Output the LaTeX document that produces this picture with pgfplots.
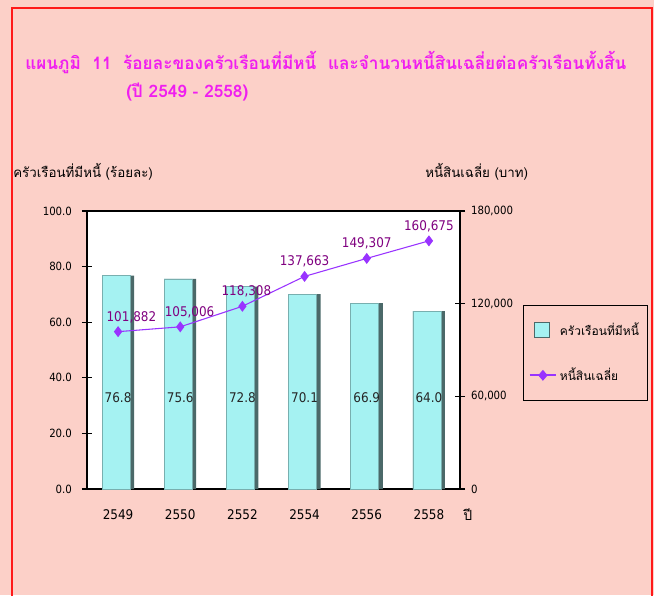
\documentclass[border=0pt]{standalone}
\usepackage{pgfplots}
\usepackage{pgfplotstable}
\pgfplotsset{compat=1.18}
\usepackage{fontspec}
\setmainfont{DejaVu Sans Condensed}
\newfontfamily\thai[Script=Thai]{Loma}
\definecolor{bgpink}{RGB}{252,208,200}
\definecolor{bord}{RGB}{255,25,25}
\definecolor{titlemag}{RGB}{240,30,240}
\definecolor{barcyan}{RGB}{165,242,242}
\definecolor{baredge}{RGB}{75,105,105}
\definecolor{barleft}{RGB}{120,175,175}
\definecolor{linevio}{RGB}{153,51,255}
\definecolor{labpur}{RGB}{128,0,128}
\pgfplotstableread{
x pct lab ly
0 76.8 76.8 33
1 75.6 75.6 33
2 72.8 72.8 33
3 70.1 70.1 33
4 66.9 66.9 33
5 64.0 64.0 33
}\pcttable
\pgfplotstableread{
x debt
0 101882
1 105006
2 118308
3 137663
4 149307
5 160675
}\debttable
\begin{document}
\begin{tikzpicture}
\begin{scope}[x=0.75pt,y=-0.75pt]
\fill[bgpink] (0,0) rectangle (654,595);
\draw[bord,line width=2.2pt] (12,596) -- (12,8) -- (652,8) -- (652,596);
\node[anchor=west,inner sep=0pt,text=titlemag,font=\thai\bfseries\fontsize{12.9}{14}\selectfont] at (25,62) {แผนภูมิ\ \ 11\ \ ร้อยละของครัวเรือนที่มีหนี้\ \ และจำนวนหนี้สินเฉลี่ยต่อครัวเรือนทั้งสิ้น};
\node[anchor=west,inner sep=0pt,text=titlemag,font=\thai\bfseries\fontsize{12.9}{14}\selectfont] at (126,92) {(ปี 2549 - 2558)};
\node[anchor=west,inner sep=0pt,font=\thai\fontsize{10}{12}\selectfont] at (13,172) {ครัวเรือนที่มีหนี้ (ร้อยละ)};
\node[anchor=west,inner sep=0pt,font=\thai\fontsize{10}{12}\selectfont] at (425,172) {หนี้สินเฉลี่ย (บาท)};
\node[anchor=west,inner sep=0pt,font=\thai\fontsize{10.5}{12}\selectfont] at (463,515) {ปี};
\end{scope}
\begin{axis}[
  at={(65.25pt,-366.75pt)}, anchor=south west,
  width=279.75pt, height=208.5pt, scale only axis,
  xmin=-0.5, xmax=5.5, ymin=0, ymax=100,
  axis background/.style={fill=white},
  x axis line style={gray, line width=1pt},
  y axis line style={black, line width=0.8pt},
  xtick={0,...,5}, xticklabels={2549,2550,2552,2554,2556,2558},
  xtick style={draw=none},
  x tick label style={font=\fontsize{10}{12}\selectfont, yshift=-8pt},
  ytick={0,20,...,100}, ytick pos=left, tick align=center,
  major tick length=7.5pt,
  y tick label style={font=\fontsize{8.5}{10}\selectfont, xshift=-4pt, /pgf/number format/.cd, fixed, fixed zerofill, precision=1},
  /pgf/number format/assume math mode=true,
  ytick style={black, line width=0.8pt},
  clip=false,
]
\addplot[ybar, bar width=24pt, fill=baredge, draw=none] table[x=x,y=pct] {\pcttable};
\addplot[ybar, bar width=21pt, bar shift=-1.5pt, fill=barcyan, draw=barleft, line width=0.5pt] table[x=x,y=pct] {\pcttable};
\addplot[draw=none, mark=none, nodes near coords, point meta=explicit symbolic,
  every node near coord/.style={anchor=center, font=\fontsize{10}{12}\selectfont, text=black!85}]
  table[x=x, y=ly, meta=lab] {\pcttable};
\end{axis}
\begin{axis}[
  at={(65.25pt,-366.75pt)}, anchor=south west,
  width=279.75pt, height=208.5pt, scale only axis,
  xmin=-0.5, xmax=5.5, ymin=0, ymax=180000,
  axis x line=none, axis y line*=right,
  y axis line style={black, line width=0.8pt, -},
  ytick={0,60000,120000,180000}, tick align=center, major tick length=7.5pt,
  scaled y ticks=false,
  ytick style={black, line width=0.8pt},
  y tick label style={font=\fontsize{8.5}{10}\selectfont, xshift=1pt, /pgf/number format/.cd, fixed, 1000 sep={,}},
  /pgf/number format/assume math mode=true,
  clip=false,
  legend style={at={(1.169,0.662)}, anchor=north west, fill=bgpink, draw=black,
    font=\thai\fontsize{9}{11}\selectfont, row sep=19pt, inner xsep=4pt, inner ysep=11pt},
  legend cell align=left,
]
\addlegendimage{legend image code/.code={\draw[fill=barcyan, draw=baredge, line width=1pt] (0.12cm,-0.2cm) rectangle (0.52cm,0.2cm);}}
\addlegendentry{ครัวเรือนที่มีหนี้}
\addplot[linevio, line width=0.8pt, mark=diamond*, mark size=3.5pt, mark options={fill=linevio},
  nodes near coords, point meta=y,
  every node near coord/.style={anchor=south, yshift=3pt, font=\fontsize{10}{12}\selectfont, text=labpur,
    /pgf/number format/.cd, fixed, 1000 sep={,}},
  coordinate style/.condition={\coordindex==0}{xshift=10pt},
  coordinate style/.condition={\coordindex==1}{xshift=7pt},
  coordinate style/.condition={\coordindex==2}{xshift=3pt},
  legend image code/.code={\draw[linevio, line width=1.5pt] (0cm,0cm) -- (0.7cm,0cm); \fill[linevio] (0.35cm,0cm) +(0,3.5pt) -- +(3pt,0) -- +(0,-3.5pt) -- +(-3pt,0) -- cycle;}]
  table[x=x,y=debt] {\debttable};
\addlegendentry{หนี้สินเฉลี่ย}
\end{axis}
\end{tikzpicture}
\end{document}
